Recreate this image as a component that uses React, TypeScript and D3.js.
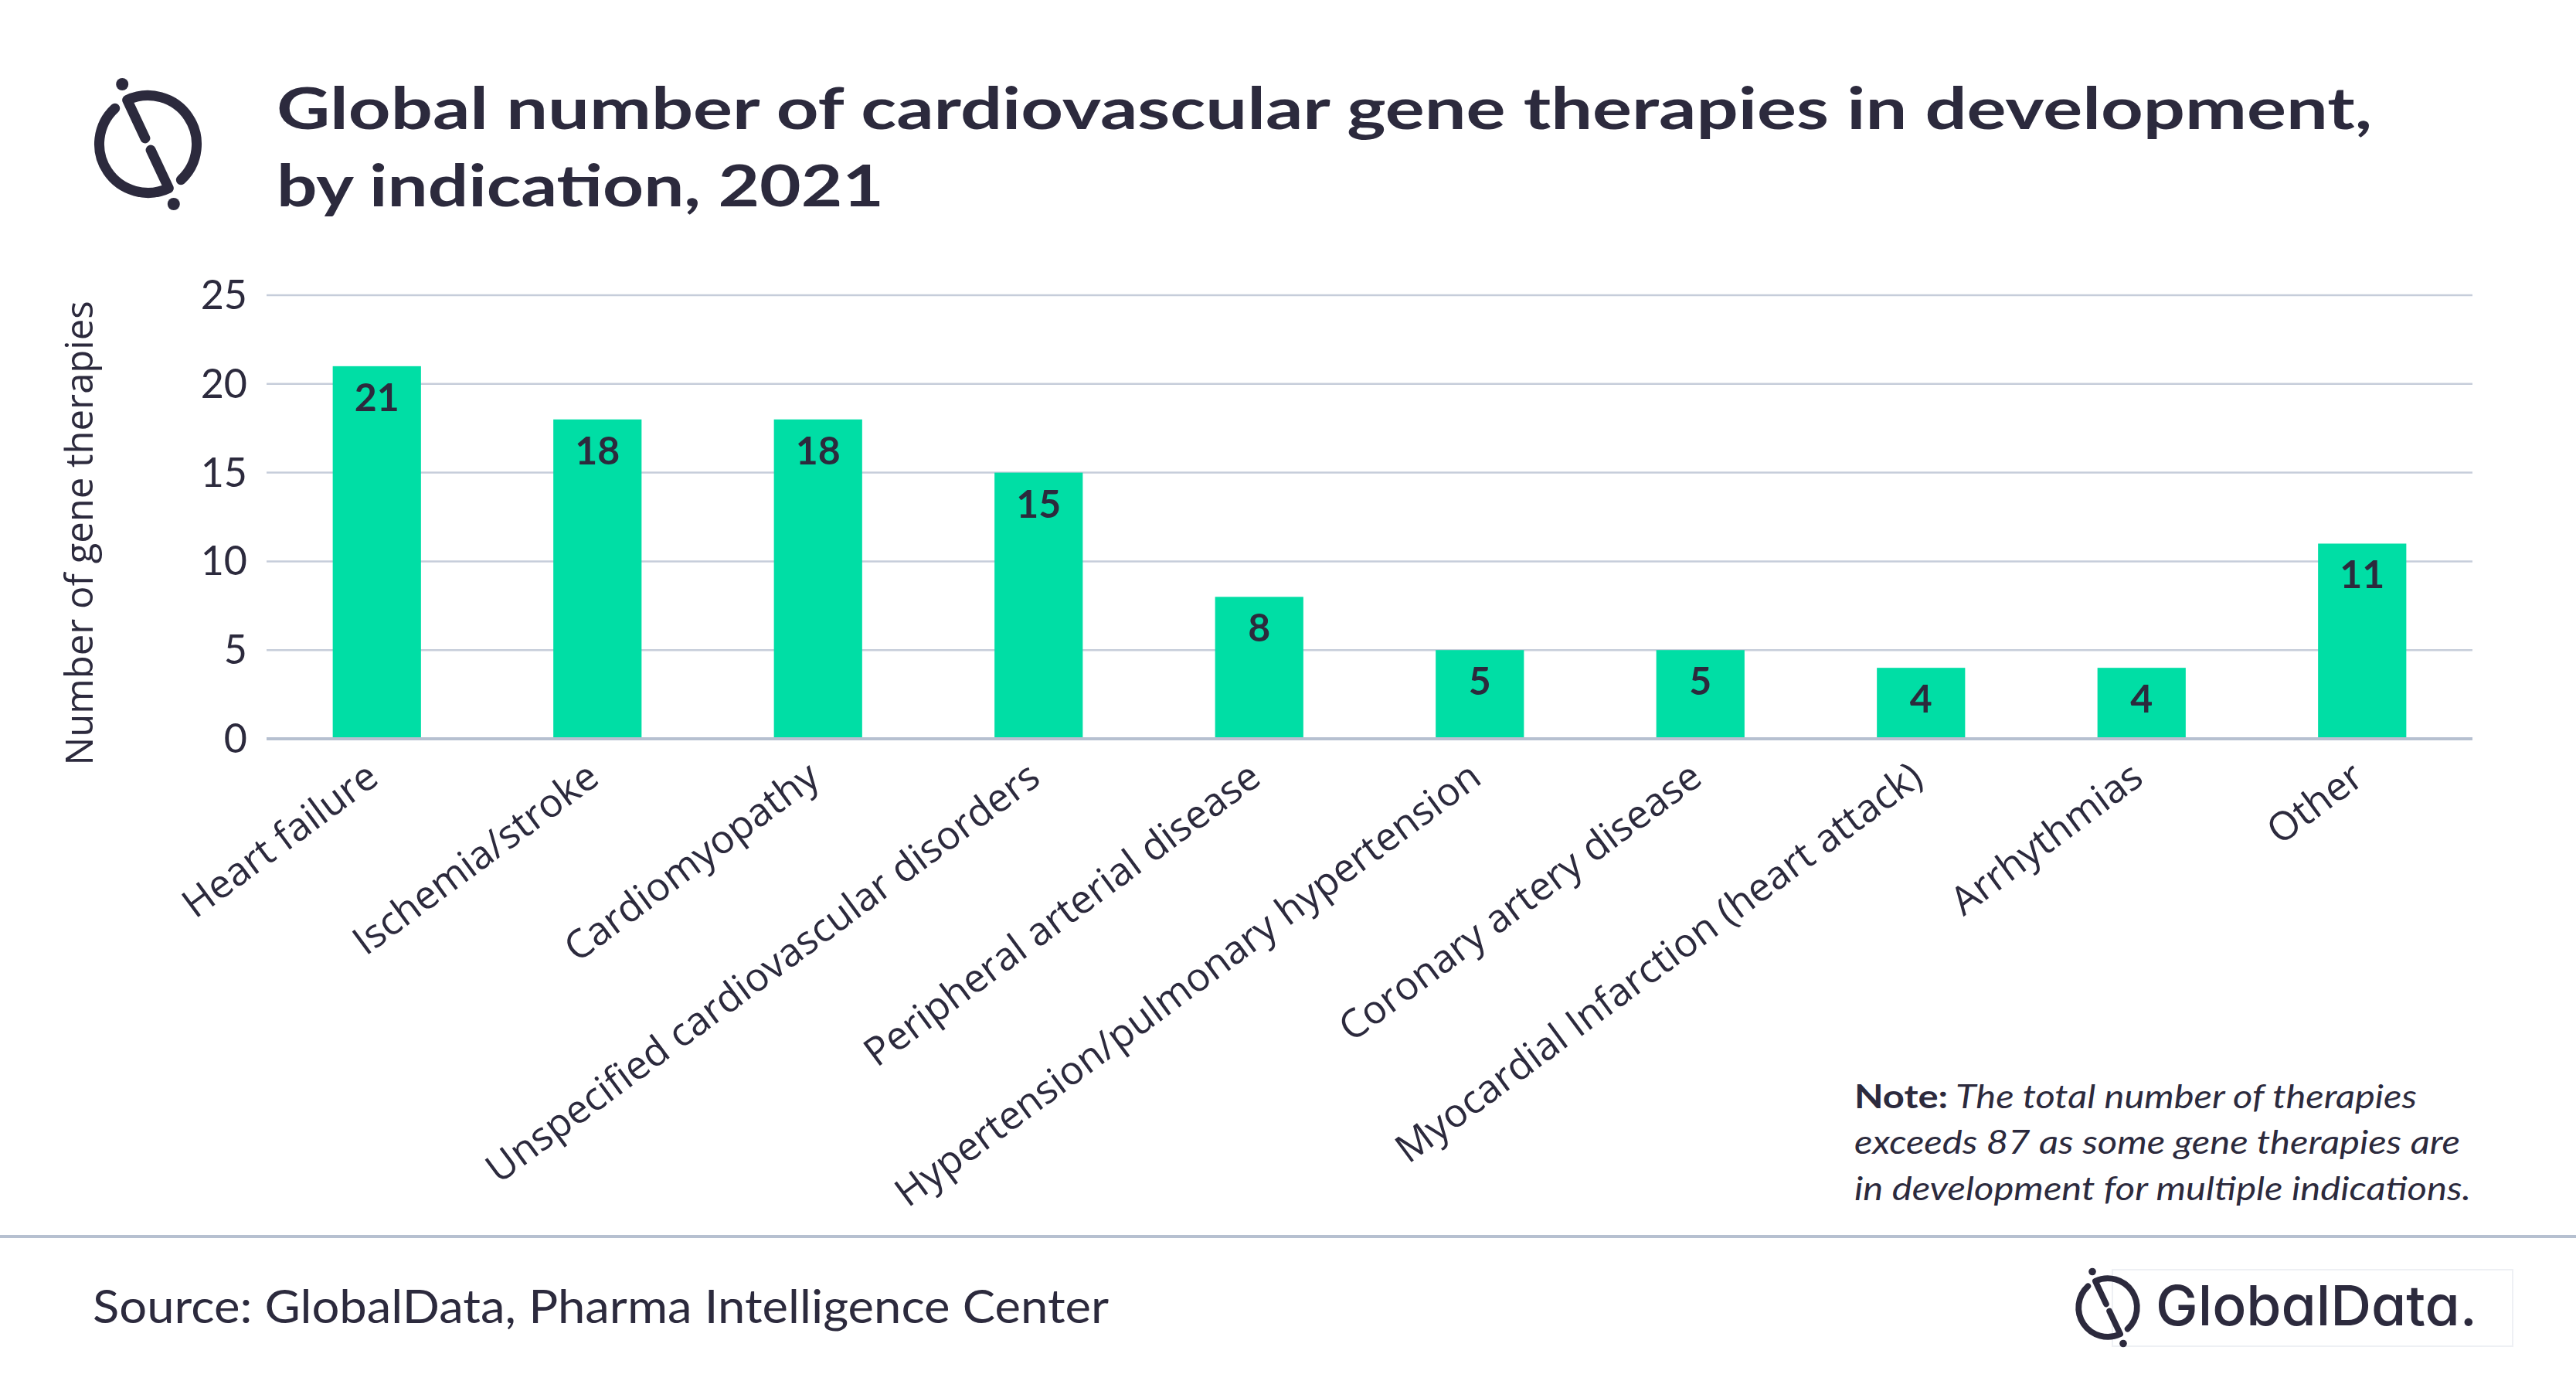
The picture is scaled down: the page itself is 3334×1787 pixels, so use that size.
import React from "react";
import * as d3 from "d3";

const categories = [
  "Heart failure",
  "Ischemia/stroke",
  "Cardiomyopathy",
  "Unspecified cardiovascular disorders",
  "Peripheral arterial disease",
  "Hypertension/pulmonary hypertension",
  "Coronary artery disease",
  "Myocardial Infarction (heart attack)",
  "Arrhythmias",
  "Other",
];
const values = [21, 18, 18, 15, 8, 5, 5, 4, 4, 11];
const yTicks = [0, 5, 10, 15, 20, 25];
const titleLines = [
  "Global number of cardiovascular gene therapies in development,",
  "by indication, 2021",
];
const yAxisTitle = "Number of gene therapies";
const noteLead = "Note:";
const noteLines = [
  " The total number of therapies",
  "exceeds 87 as some gene therapies are",
  "in development for multiple indications.",
];
const sourceText = "Source: GlobalData, Pharma Intelligence Center";
const brandText = "GlobalData.";

const W = 3334;
const H = 1787;
const INK = "#2C2A3D";
const BAR = "#00DEA5";
const GRID = "#C6CDDA";
const AXIS = "#B6C0D0";

function Logo({ cx, cy, s }: { cx: number; cy: number; s: number }) {
  const deg = Math.PI / 180;
  const R = 63;
  const hook = (ang: number) => {
    const p = d3.path();
    p.moveTo(8.4 * Math.cos(ang), 8.4 * Math.sin(ang));
    p.lineTo(R * Math.cos(ang), R * Math.sin(ang));
    p.arc(0, 0, R, ang, ang + 162.4 * deg, false);
    return p.toString();
  };
  const a0 = 244.8 * deg;
  return (
    <g transform={`translate(${cx},${cy}) scale(${s})`}>
      <path d={hook(a0)} fill="none" stroke={INK} strokeWidth={13} strokeLinecap="round" strokeLinejoin="round" />
      <path d={hook(a0 + Math.PI)} fill="none" stroke={INK} strokeWidth={13} strokeLinecap="round" strokeLinejoin="round" />
      <circle cx={-33.3} cy={-77.5} r={8} fill={INK} />
      <circle cx={33.3} cy={77.5} r={8} fill={INK} />
    </g>
  );
}

export default function App() {
  const x = d3
    .scaleBand<string>()
    .domain(categories)
    .range([345, 3200])
    .paddingInner(0.6)
    .paddingOuter(0.3);
  const y = d3.scaleLinear().domain([0, 25]).range([956, 382]);
  const bw = x.bandwidth();

  return (
    <svg
      width={W}
      height={H}
      viewBox={`0 0 ${W} ${H}`}
      style={{ position: "fixed", left: 0, top: 0, display: "block", background: "#fff" }}
    >
      <rect x={0} y={0} width={W} height={H} fill="#fff" />

      {/* header logo */}
      <Logo cx={191.5} cy={186.5} s={1} />

      {/* title */}
      <text x={358} y={167} fontFamily="Lato, sans-serif" fontWeight={700} fontSize={74} fill={INK} textLength={2712} lengthAdjust="spacingAndGlyphs">
        {titleLines[0]}
      </text>
      <text x={358} y={267} fontFamily="Lato, sans-serif" fontWeight={700} fontSize={74} fill={INK} textLength={786} lengthAdjust="spacingAndGlyphs">
        {titleLines[1]}
      </text>

      {/* gridlines */}
      {yTicks.map((t) => (
        <line
          key={"g" + t}
          x1={345}
          x2={3200}
          y1={y(t)}
          y2={y(t)}
          stroke={t === 0 ? AXIS : GRID}
          strokeWidth={t === 0 ? 4 : 2.5}
        />
      ))}

      {/* tick labels */}
      {yTicks.map((t) => (
        <text
          key={"t" + t}
          x={320}
          y={y(t) + 18}
          textAnchor="end"
          fontFamily="Lato, sans-serif"
          fontSize={52}
          fill={INK}
        >
          {t}
        </text>
      ))}

      {/* y axis title */}
      <text
        transform={`translate(120, 690) rotate(-90)`}
        textAnchor="middle"
        fontFamily="'Open Sans', sans-serif"
        fontSize={49}
        fill={INK}
      >
        {yAxisTitle}
      </text>

      {/* bars */}
      {categories.map((c, i) => (
        <rect
          key={"b" + c}
          x={x(c)}
          y={y(values[i])}
          width={bw}
          height={y(0) - y(values[i]) - 2}
          fill={BAR}
        />
      ))}

      {/* data labels */}
      {categories.map((c, i) => (
        <text
          key={"v" + c}
          x={(x(c) as number) + bw / 2}
          y={y(values[i]) + 58}
          textAnchor="middle"
          fontFamily="Lato, sans-serif"
          fontWeight={700}
          fontSize={50}
          fill={INK}
        >
          {values[i]}
        </text>
      ))}

      {/* category labels */}
      {categories.map((c) => (
        <text
          key={"c" + c}
          transform={`translate(${(x(c) as number) + bw / 2 + 5}, 1012) rotate(-36.5)`}
          textAnchor="end"
          fontFamily="'Open Sans', sans-serif"
          fontSize={51}
          fill={INK}
        >
          {c}
        </text>
      ))}

      {/* note */}
      <text x={2400} y={1434} fontFamily="Lato, sans-serif" fontSize={42} fill={INK} textLength={728} lengthAdjust="spacingAndGlyphs">
        <tspan fontWeight={700}>{noteLead}</tspan>
        <tspan fontStyle="italic">{noteLines[0]}</tspan>
      </text>
      <text x={2400} y={1493} fontFamily="Lato, sans-serif" fontSize={42} fontStyle="italic" fill={INK} textLength={784} lengthAdjust="spacingAndGlyphs">
        {noteLines[1]}
      </text>
      <text x={2400} y={1553} fontFamily="Lato, sans-serif" fontSize={42} fontStyle="italic" fill={INK} textLength={798} lengthAdjust="spacingAndGlyphs">
        {noteLines[2]}
      </text>

      {/* separator */}
      <line x1={0} x2={W} y1={1600} y2={1600} stroke={AXIS} strokeWidth={4} />

      {/* source */}
      <text x={120} y={1712} fontFamily="Lato, sans-serif" fontSize={60} fill={INK} textLength={1315} lengthAdjust="spacingAndGlyphs">
        {sourceText}
      </text>

      {/* brand */}
      <rect x={2734} y={1643} width={518} height={99} fill="none" stroke="#EEF0F4" strokeWidth={2} />
      <Logo cx={2728} cy={1692} s={0.6} />
      <text
        x={2790}
        y={1715}
        fontFamily="Inter, sans-serif"
        fontWeight={500}
        fontSize={72}
        fill={INK}
        textLength={416}
        lengthAdjust="spacingAndGlyphs"
        style={{ fontFeatureSettings: '"cv11" 1' }}
      >
        {brandText}
      </text>
    </svg>
  );
}
